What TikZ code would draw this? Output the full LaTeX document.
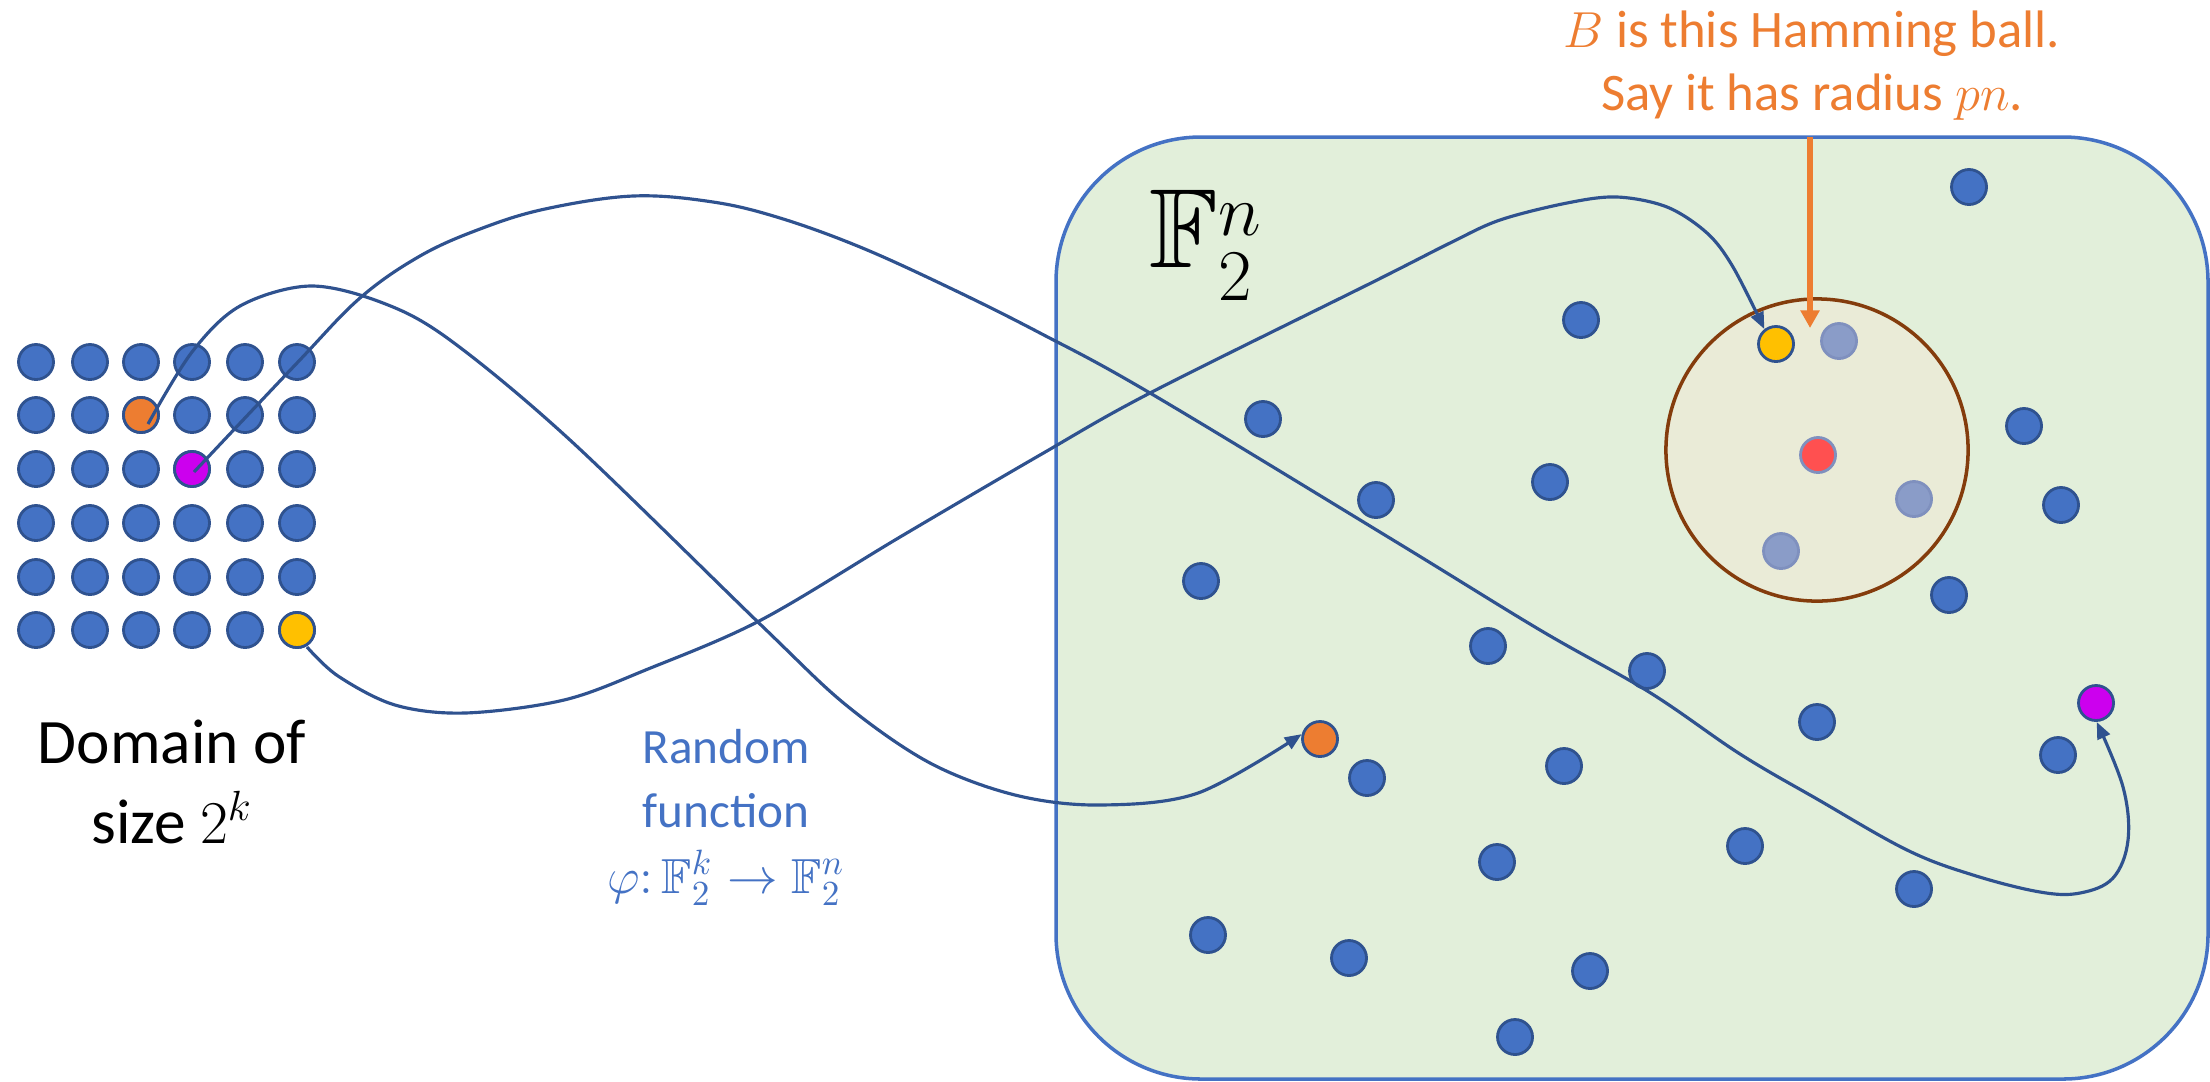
\documentclass[tikz,border=0pt]{standalone}
\usepackage{amssymb}
\usepackage{fontspec}
\setmainfont{Carlito}
\usetikzlibrary{arrows.meta,calc}
\definecolor{dotblue}{HTML}{4472C4}
\definecolor{dotedge}{HTML}{2F528F}
\definecolor{connblue}{HTML}{2F528F}
\definecolor{boxfill}{HTML}{E2EFDA}
\definecolor{boxedge}{HTML}{4472C4}
\definecolor{ballfill}{HTML}{EAEBD7}
\definecolor{balledge}{HTML}{843C0C}
\definecolor{fadefill}{HTML}{8A9CC8}
\definecolor{fadeedge}{HTML}{7F90BE}
\definecolor{orangeA}{HTML}{ED7D31}
\definecolor{yellowA}{HTML}{FFC000}
\definecolor{magentaA}{HTML}{CC00EE}
\definecolor{redA}{HTML}{FF5050}
\tikzset{
  dot/.style={circle, inner sep=0pt, minimum size=0.35cm, fill=dotblue, draw=dotedge, line width=0.8pt},
  fadedot/.style={dot, fill=fadefill, draw=fadeedge},
  conn/.style={draw=connblue, line width=0.9pt},
  tipA/.style={-{Triangle[length=4.8pt,width=3.8pt]}},
  bluetext/.style={anchor=base, inner sep=0pt, text=dotblue, font=\fontsize{14}{18}\selectfont},
  orangetext/.style={anchor=base, inner sep=0pt, text=orangeA, font=\fontsize{15}{18}\selectfont},
  blacktext/.style={anchor=base, inner sep=0pt, font=\fontsize{18}{22}\selectfont}
}
\begin{document}
\begin{tikzpicture}[x=0.01cm,y=-0.01cm]
\useasboundingbox (0,0) rectangle (2210,1081);
% big box
\draw[fill=boxfill, draw=boxedge, line width=1pt, rounded corners=1.45cm] (1056,137) rectangle (2208,1079);
\node[inner sep=0pt, anchor=base west, font=\fontsize{32}{38}\selectfont] (fn) at (1149,267) {$\mathbb{F}_2^n$};
% Hamming ball
\node[circle, minimum size=3.02cm, inner sep=0pt, fill=ballfill, draw=balledge, line width=1pt] (ball) at (1817,450) {};
% dots in the box
\foreach \i/\x/\y in {1/1969/187, 2/1581/320, 3/1263/419, 4/2024/426, 5/1550/482, 6/1376/500,
  7/2061/505, 8/1201/581, 9/1949/595, 10/1488/646, 11/1647/671, 12/1817/722, 13/2058/755,
  14/1367/778, 15/1564/766, 16/1745/846, 17/1497/862, 18/1914/889, 19/1208/935, 20/1349/958,
  21/1590/971, 22/1515/1037}
  \node[dot] (b\i) at (\x,\y) {};
\node[dot, fill=orangeA] (ob) at (1320,739) {};
\node[dot, fill=magentaA] (mb) at (2096,703) {};
% dots in the ball
\node[dot, fill=yellowA] (yb) at (1776,344) {};
\node[fadedot] (f1) at (1839,341) {};
\node[fadedot, fill=redA] (rc) at (1818,455) {};
\node[fadedot] (f2) at (1914,499) {};
\node[fadedot] (f3) at (1781,551) {};
% domain grid
\foreach \c/\x in {1/36, 2/90, 3/141, 4/192, 5/245, 6/297}
  \foreach \r/\y in {1/362, 2/415, 3/469, 4/523, 5/577, 6/630}
    \node[dot] (g\r\c) at (\x,\y) {};
\node[dot, fill=orangeA] at (g23) {};
\node[dot, fill=magentaA] at (g34) {};
\node[dot, fill=yellowA] at (g66) {};
% texts
\node[blacktext] (dom1) at (172,763) {Domain of};
\node[blacktext] (dom2) at (172,843) {size $2^k$};
\node[bluetext] (rf1) at (726,763) {Random};
\node[bluetext] (rf2) at (726,827) {function};
\node[bluetext] (rf3) at (726,893) {$\varphi{:}\,\mathbb{F}_2^k\to\mathbb{F}_2^n$};
\node[orangetext] (hb1) at (1812,47) {$B$ is this Hamming ball.};
\node[orangetext] (hb2) at (1812,110) {Say it has radius $pn$.};
% connectors
\coordinate (s1) at ($(g23)+(7,9)$);
\coordinate (s2) at ($(g34)+(2,3)$);
\coordinate (s3) at ($(g66)+(10,17)$);
\draw[conn, tipA] plot[smooth, tension=0.55] coordinates {(s1) (192,352) (240,306) (310,286) (383,303) (450,340) (570,440) (761,625) (846,705) (930,763) (1015,795) (1099,805) (1198,793) (ob.165)};
\draw[conn, tipA] plot[smooth, tension=0.6] coordinates {(s2) (297,363) (360,298) (420,256) (480,229) (545,209) (633,196) (713,202) (780,218) (860,247) (950,288) (1040,333) (1150,393) (1393,540) (1540,630) (1649,692) (1740,754) (1817,799) (1907,850) (1973,875) (2040,892) (2080,893) (2113,878) (2128,840) (2123,787) (mb.-88)};
\draw[conn, tipA] plot[smooth, tension=0.55] coordinates {(s3) (338,676) (395,705) (465,713) (564,700) (648,669) (761,620) (900,537) (1040,455) (1150,393) (1373,282) (1450,243) (1500,220) (1567,203) (1617,197) (1667,207) (1707,233) (1733,267) (yb.128)};
% orange pointer
\coordinate (ps) at (1810,137);
\coordinate (pe) at (1810,328);
\draw[draw=orangeA, line width=1.8pt, -{Triangle[length=5pt,width=5.2pt]}] (ps) -- (pe);
\end{tikzpicture}
\end{document}
